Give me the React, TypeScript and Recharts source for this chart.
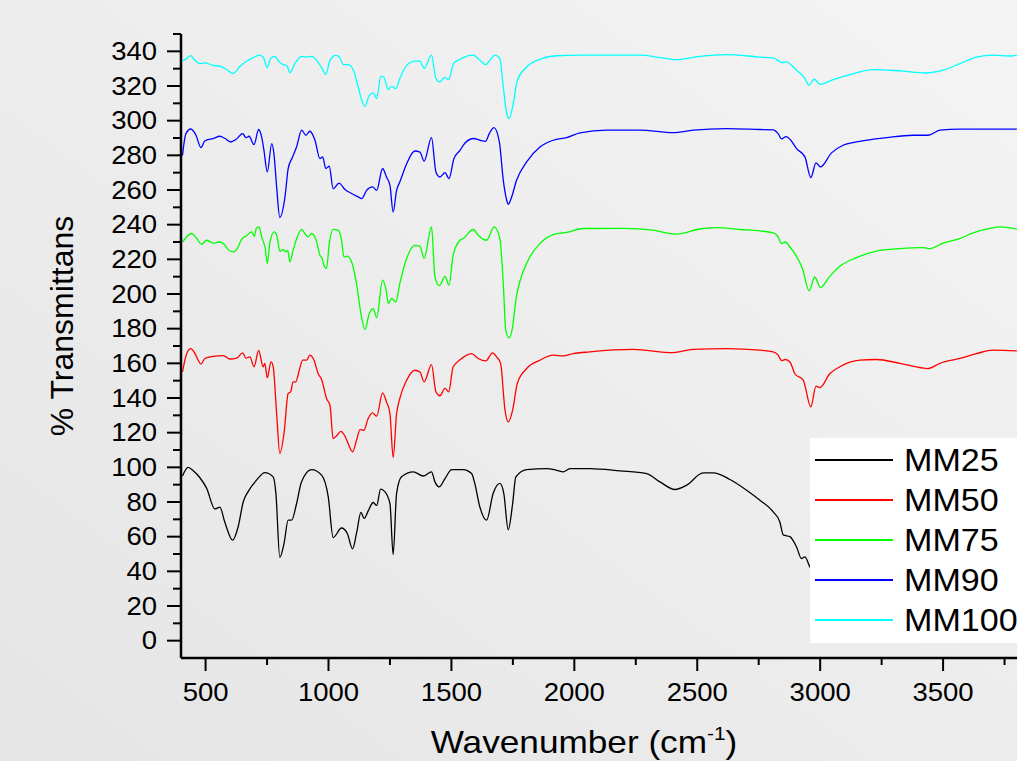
import React from "react";
import { LineChart, Line, XAxis, YAxis } from "recharts";

// [wavenumber, %T]
const mm25 = [
  [406, 95], [429, 100], [450, 98], [477, 94], [504, 88], [538, 76], [558, 77], [579, 68], [610, 58],
  [633, 66], [653, 80], [673, 86], [707, 92.6], [741, 97], [775, 94.5], [786, 85], [802, 48], [819, 56],
  [836, 69.5], [850, 69.5], [870, 79], [890, 91.6], [931, 98.7], [972, 95.5], [999, 83], [1019, 59.5],
  [1053, 65], [1076, 62], [1098, 53], [1114, 62], [1132, 74], [1145, 70.5], [1162, 75], [1182, 79.7],
  [1196, 78], [1212, 87.4], [1229, 86], [1250, 79], [1263, 49.7], [1277, 85], [1297, 94.5], [1345, 97.4],
  [1385, 95], [1419, 97.4], [1433, 91.6], [1450, 88.7], [1474, 93.5], [1501, 98.7], [1548, 98.7],
  [1582, 96.4], [1595, 90.7], [1616, 77], [1643, 69.5], [1670, 85], [1697, 90.7], [1713, 85], [1731, 64],
  [1749, 79], [1762, 94.5], [1806, 98.7], [1887, 99.3], [1928, 98.3], [1955, 97.4], [1982, 99.3],
  [2063, 99.3], [2185, 98], [2294, 96.4], [2348, 91.6], [2409, 87.2], [2457, 89.7], [2524, 96.8],
  [2565, 96.8], [2633, 93], [2701, 86.8], [2755, 81], [2809, 74.3], [2836, 68.5], [2850, 61], [2877, 60],
  [2904, 54], [2924, 47.4], [2938, 48.3], [2958, 42.6], [3000, 38], [3100, 46], [3250, 62], [3400, 78],
  [3550, 90], [3700, 96], [3800, 97],
];

const mm50 = [
  [406, 155], [423, 165.6], [440, 168.5], [457, 165.6], [470, 161.8], [481, 159.5], [497, 162.8],
  [531, 164], [572, 164.5], [599, 162.5], [626, 163], [651, 166], [664, 163], [680, 163.7], [697, 158],
  [716, 167.5], [734, 158], [741, 160], [751, 151.6], [766, 160.8], [775, 158], [789, 131], [802, 108],
  [819, 119.5], [836, 142.6], [846, 143.5], [856, 149.3], [867, 149.3], [881, 156], [895, 161.8],
  [911, 161.8], [924, 164.7], [941, 161.8], [958, 154], [972, 150.7], [992, 139.7], [1006, 135.8],
  [1019, 116.6], [1035, 118.5], [1050, 120.8], [1067, 118], [1080, 113.7], [1098, 109], [1114, 115.6],
  [1128, 121.8], [1144, 121.4], [1161, 128], [1179, 131.4], [1196, 129.5], [1220, 143], [1236, 137.7],
  [1250, 131], [1263, 105.7], [1277, 131], [1290, 139.7], [1318, 150.3], [1351, 156], [1372, 155],
  [1389, 149.3], [1419, 159.3], [1437, 143.5], [1453, 141.3], [1474, 145.5], [1489, 143.5], [1507, 158],
  [1535, 162], [1582, 165.6], [1609, 162.8], [1640, 161.4], [1667, 166], [1684, 163.7], [1700, 160],
  [1718, 133], [1731, 126.2], [1749, 133], [1768, 148.4], [1806, 157], [1860, 161.8], [1914, 164.7],
  [1955, 164.3], [1995, 165.6], [2063, 166.6], [2239, 168], [2402, 166.2], [2483, 168.1], [2619, 168.5],
  [2755, 167.6], [2809, 166.6], [2829, 164.7], [2843, 161.6], [2858, 162.2], [2877, 160.8], [2897, 154],
  [2931, 150.3], [2962, 134.9], [2983, 146.8], [2999, 146], [3039, 154], [3080, 158], [3161, 161.8],
  [3229, 162.2], [3324, 160], [3405, 157.6], [3439, 157], [3487, 160], [3568, 162.8], [3636, 165.6],
  [3704, 167.6], [3800, 167.2],
];

const mm75 = [
  [406, 230], [423, 233], [443, 234.9], [461, 232.6], [484, 228.7], [504, 231], [531, 229.4], [558, 230],
  [575, 228.7], [592, 225.6], [612, 224.3], [629, 226.2], [646, 231.4], [669, 233.9], [687, 235.8],
  [698, 233.3], [707, 238.1], [718, 238.7], [728, 232.9], [737, 229.4], [743, 226.2], [751, 217.6],
  [762, 230], [779, 235.8], [791, 232.9], [802, 224.7], [816, 225.6], [827, 224.3], [834, 225.2],
  [843, 218.5], [856, 225.2], [873, 232.9], [891, 237.3], [904, 234.9], [917, 232.9], [931, 234.9],
  [952, 230], [965, 222.4], [974, 220.5], [981, 216.6], [992, 214.7], [1003, 229.1], [1019, 237.3],
  [1040, 236.8], [1053, 231], [1063, 221.4], [1076, 221.8], [1094, 218.5], [1114, 206], [1132, 188.7],
  [1148, 179.5], [1166, 188.7], [1182, 191.6], [1196, 186.4], [1220, 208], [1233, 203.2], [1244, 194.5],
  [1257, 197.4], [1274, 195.4], [1290, 206], [1318, 220.5], [1351, 228.1], [1372, 227.5], [1389, 220.5],
  [1419, 238.7], [1433, 209.8], [1451, 204.8], [1474, 210.2], [1490, 205.1], [1507, 222.4], [1535, 231],
  [1548, 232], [1589, 237.2], [1609, 233.9], [1643, 231], [1674, 238.7], [1697, 232], [1711, 206],
  [1721, 179.1], [1734, 174.7], [1749, 181], [1762, 196.4], [1778, 207], [1812, 219.5], [1860, 229.1],
  [1914, 234.3], [1969, 235.5], [2036, 237.8], [2199, 237.9], [2321, 236.8], [2416, 234.5], [2511, 237.5],
  [2579, 238.3], [2673, 237.2], [2755, 236.4], [2809, 235.2], [2829, 232.9], [2843, 229.1], [2858, 230],
  [2877, 227.1], [2897, 223.3], [2928, 214.7], [2955, 201.8], [2978, 209.8], [3001, 203.7], [3039, 210.2],
  [3080, 216], [3148, 221], [3229, 224.8], [3324, 226.2], [3419, 226.8], [3446, 226.2], [3500, 229.4],
  [3568, 232], [3622, 235.2], [3690, 237.8], [3731, 238.7], [3800, 237.4],
];

const mm90 = [
  [406, 280], [420, 292.5], [440, 295.2], [461, 291.6], [481, 284.5], [497, 288.3], [531, 289.7],
  [558, 291], [579, 289.7], [602, 287.7], [623, 289.1], [651, 292.5], [664, 290.2], [677, 291],
  [697, 286.2], [716, 294.9], [728, 290.6], [737, 283.3], [751, 270.4], [769, 286.8], [778, 281],
  [789, 261.8], [802, 244.1], [823, 256], [836, 272.4], [854, 279.1], [870, 284.8], [891, 294.5],
  [908, 291.6], [924, 293.9], [945, 288.7], [965, 278.1], [976, 279.1], [989, 272.4], [1003, 273.7],
  [1019, 260.8], [1043, 264], [1067, 260.3], [1094, 258], [1121, 256], [1135, 255], [1155, 259.8],
  [1179, 261.8], [1196, 259.8], [1220, 272.4], [1236, 267.5], [1250, 262.7], [1263, 247.3], [1277, 259.8],
  [1290, 264.6], [1318, 275.2], [1351, 282.5], [1372, 281.9], [1389, 276.6], [1419, 290.2], [1437, 270.4],
  [1453, 267.5], [1474, 270], [1490, 266.6], [1510, 278], [1535, 282.9], [1548, 285.8], [1589, 289.7],
  [1616, 288.7], [1639, 288.1], [1654, 292.5], [1673, 296], [1695, 287.7], [1711, 265.6], [1725, 254.1],
  [1731, 251.7], [1745, 256], [1765, 265.6], [1806, 276.2], [1860, 284.8], [1914, 288.7], [1969, 290.2],
  [2023, 292.9], [2131, 294.5], [2267, 294.5], [2402, 293.1], [2483, 294.5], [2619, 295.4], [2755, 294.9],
  [2809, 294.7], [2829, 292.5], [2843, 289.5], [2861, 290.8], [2877, 289.3], [2904, 283.9], [2938, 279.1],
  [2962, 267.2], [2983, 275.6], [3001, 273.3], [3046, 281.4], [3093, 285.8], [3161, 288.1], [3270, 290.2],
  [3378, 291.6], [3439, 291.6], [3487, 294.5], [3568, 295.1], [3704, 295.1], [3800, 295.1],
];

const mm100 = [
  [406, 334.4], [423, 335.8], [439, 337.5], [457, 334.8], [477, 332.9], [497, 333.3], [531, 331.9],
  [558, 331.4], [585, 329.5], [612, 327.2], [640, 331.4], [667, 334.3], [694, 336.4], [718, 337.8],
  [734, 336.7], [751, 330.6], [764, 335.8], [782, 337.1], [799, 333.9], [816, 332.3], [830, 331.9],
  [843, 327.7], [863, 332.9], [891, 337.1], [911, 336.7], [931, 337.1], [952, 334.8], [972, 330.6],
  [989, 326.8], [1006, 334.8], [1030, 337.7], [1046, 336.4], [1060, 332.3], [1080, 332.3], [1100, 329.5],
  [1121, 319.4], [1135, 311.8], [1148, 308.3], [1166, 314.6], [1182, 316], [1196, 312.7], [1213, 325.6],
  [1225, 325.2], [1243, 317.9], [1257, 319.8], [1274, 318.5], [1290, 324.3], [1318, 331.9], [1351, 334.4],
  [1372, 334.3], [1389, 330.1], [1419, 337.8], [1437, 324.3], [1453, 322.3], [1472, 325], [1489, 323.7],
  [1509, 333], [1535, 335.4], [1548, 336.4], [1589, 337.8], [1616, 334.8], [1640, 332.3], [1656, 334.8],
  [1677, 337.8], [1697, 335.8], [1711, 319.4], [1725, 304], [1734, 301.2], [1749, 307.9], [1768, 323.3],
  [1806, 331], [1860, 335.4], [1914, 337.3], [2023, 337.8], [2267, 337.8], [2348, 336.4], [2416, 335.2],
  [2511, 337.1], [2619, 338.1], [2755, 336.7], [2809, 336.2], [2836, 334], [2843, 333.5], [2861, 333.9],
  [2904, 329.1], [2938, 324.3], [2954, 320.4], [2976, 323.9], [2999, 321], [3053, 323.7], [3121, 326.6],
  [3216, 329.5], [3324, 328.7], [3433, 327.5], [3500, 329.1], [3568, 332.9], [3636, 336.7], [3704, 337.8],
  [3772, 337.3], [3800, 337.8],
];

const seriesNames = ["MM25", "MM50", "MM75", "MM90", "MM100"];
const seriesColors = ["#000000", "#ff0000", "#00ff00", "#0000ff", "#00ffff"];
const seriesPoints = [mm25, mm50, mm75, mm90, mm100];

// 4000 sits past the visible edge, so the tick list stops at 3750
const xTicks = [500, 750, 1000, 1250, 1500, 1750, 2000, 2250, 2500, 2750, 3000, 3250, 3500, 3750];
const yTicks = [0, 10, 20, 30, 40, 50, 60, 70, 80, 90, 100, 110, 120, 130, 140, 150, 160, 170, 180,
  190, 200, 210, 220, 230, 240, 250, 260, 270, 280, 290, 300, 310, 320, 330, 340, 350];

const FONT = "'Liberation Sans', Arial, sans-serif";

const XTick = (props: any) => {
  const { x, y, payload } = props;
  const major = payload.value % 500 === 0;
  return (
    <g>
      <line x1={x} y1={y} x2={x} y2={y + (major ? 13 : 7)} stroke="#000" strokeWidth={2} />
      {major && (
        <text transform={`translate(${x},${y + 34}) scale(1.1,1)`} textAnchor="middle"
          dominantBaseline="central" fontSize={25} fontFamily={FONT} fill="#000">
          {payload.value}
        </text>
      )}
    </g>
  );
};

const YTick = (props: any) => {
  const { x, y, payload } = props;
  const major = payload.value % 20 === 0;
  return (
    <g>
      <line x1={x - (major ? 14 : 8)} y1={y} x2={x} y2={y} stroke="#000" strokeWidth={2} />
      {major && (
        <text transform={`translate(${x - 24},${y}) scale(1.1,1)`} textAnchor="end"
          dominantBaseline="central" fontSize={25} fontFamily={FONT} fill="#000">
          {payload.value}
        </text>
      )}
    </g>
  );
};

export default function App() {
  return (
    <div
      style={{
        position: "fixed",
        left: 0,
        top: 0,
        width: 1017,
        height: 761,
        overflow: "hidden",
        background: "linear-gradient(to top right, #e5e5e5, #f4f4f4)",
        fontFamily: FONT,
      }}
    >
      <LineChart width={1100} height={761} margin={{ top: 34, right: 34, bottom: 43, left: 0 }}>
        <XAxis
          type="number"
          dataKey="wn"
          domain={[400, 4000]}
          allowDataOverflow
          ticks={xTicks}
          interval={0}
          tickLine={false}
          tickSize={0}
          tickMargin={0}
          tick={<XTick />}
          height={60}
          axisLine={{ stroke: "#000", strokeWidth: 2.5 }}
          label={() => (
            <text transform="translate(584,753) scale(1.1,1)" textAnchor="middle" fontSize={32}
              fontFamily={FONT} fill="#000">
              Wavenumber (cm
              <tspan dy={-13} fontSize={19}>-1</tspan>
              <tspan dy={13}>)</tspan>
            </text>
          )}
        />
        <YAxis
          type="number"
          domain={[-10, 350]}
          allowDataOverflow
          ticks={yTicks}
          interval={0}
          tickLine={false}
          tickSize={0}
          tickMargin={0}
          tick={<YTick />}
          width={181}
          axisLine={{ stroke: "#000", strokeWidth: 2.5 }}
          label={() => (
            <text transform="translate(62,326) rotate(-90)" textAnchor="middle" dominantBaseline="central"
              fontSize={32} fontFamily={FONT} fill="#000">
              % Transmittans
            </text>
          )}
        />
        {seriesPoints.map((pts, i) => (
          <Line
            key={seriesNames[i]}
            name={seriesNames[i]}
            data={pts.map(([wn, t]) => ({ wn, t }))}
            dataKey="t"
            type="monotone"
            stroke={seriesColors[i]}
            strokeWidth={1.3}
            dot={false}
            activeDot={false}
            isAnimationActive={false}
          />
        ))}
      </LineChart>
      <div
        style={{
          position: "absolute",
          left: 810,
          top: 438,
          width: 260,
          height: 205,
          background: "#ffffff",
        }}
      >
        {seriesNames.map((name, i) => (
          <div
            key={name}
            style={{
              position: "absolute",
              left: 0,
              top: 2 + i * 40,
              height: 40,
              display: "flex",
              alignItems: "center",
            }}
          >
            <div style={{ marginLeft: 5, width: 78, height: 1.5, background: seriesColors[i] }} />
            <span
              style={{
                marginLeft: 11,
                fontSize: 31,
                lineHeight: 1,
                color: "#000",
                display: "inline-block",
                transform: "scaleX(1.1)",
                transformOrigin: "left center",
                whiteSpace: "nowrap",
              }}
            >
              {name}
            </span>
          </div>
        ))}
      </div>
    </div>
  );
}
